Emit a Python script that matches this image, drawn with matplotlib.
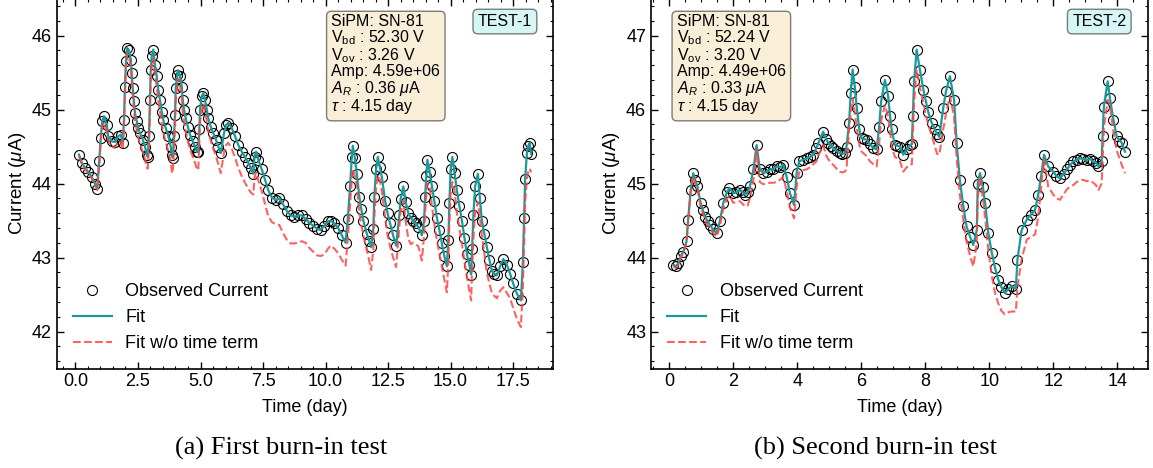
import matplotlib
matplotlib.use("Agg")
import matplotlib.pyplot as plt
from matplotlib.ticker import AutoMinorLocator, MultipleLocator

plt.rcParams['font.family'] = ['Liberation Sans', 'DejaVu Sans']
plt.rcParams['mathtext.fontset'] = 'custom'
plt.rcParams['mathtext.rm'] = 'Liberation Sans'
plt.rcParams['mathtext.it'] = 'Liberation Sans:italic'
plt.rcParams['mathtext.bf'] = 'Liberation Sans:bold'

# ---------------- TEST-1 data ----------------
time1 = [0.14, 0.25, 0.38, 0.51, 0.65, 0.78, 0.87, 0.95, 1.01, 1.07, 1.14, 1.25, 1.31, 1.45, 1.58,
         1.71, 1.81, 1.89, 1.94, 1.98, 2.02, 2.07, 2.14, 2.21, 2.25, 2.29, 2.34, 2.38, 2.45, 2.51,
         2.58, 2.69, 2.78, 2.85, 2.89, 2.94, 2.98, 3.01, 3.05, 3.11, 3.18, 3.25, 3.31, 3.38, 3.45,
         3.51, 3.61, 3.71, 3.81, 3.85, 3.89, 3.94, 3.98, 4.01, 4.07, 4.11, 4.18, 4.25, 4.29, 4.34,
         4.41, 4.49, 4.58, 4.69, 4.78, 4.85, 4.91, 4.95, 4.98, 5.05, 5.11, 5.18, 5.25, 5.31, 5.41,
         5.51, 5.62, 5.71, 5.81, 5.94, 6.02, 6.11, 6.25, 6.38, 6.51, 6.65, 6.78, 6.91, 7.01, 7.11,
         7.16, 7.22, 7.31, 7.45, 7.58, 7.71, 7.85, 8.00, 8.15, 8.30, 8.45, 8.60, 8.75, 8.90, 9.05,
         9.20, 9.35, 9.50, 9.65, 9.80, 9.95, 10.10, 10.20, 10.35, 10.50, 10.65, 10.80, 10.89, 10.98, 11.05,
         11.09, 11.17, 11.25, 11.35, 11.43, 11.51, 11.65, 11.75, 11.82, 11.91, 11.95, 12.02, 12.09, 12.17, 12.25,
         12.38, 12.48, 12.58, 12.70, 12.82, 12.95, 13.00, 13.11, 13.20, 13.31, 13.41, 13.51, 13.61, 13.71, 13.85,
         13.94, 13.98, 14.03, 14.07, 14.17, 14.25, 14.35, 14.45, 14.55, 14.65, 14.75, 14.85, 14.91, 14.95, 15.00,
         15.07, 15.16, 15.25, 15.35, 15.45, 15.55, 15.65, 15.75, 15.82, 15.86, 15.91, 15.98, 16.09, 16.17, 16.25,
         16.35, 16.45, 16.55, 16.65, 16.75, 16.85, 16.98, 17.11, 17.25, 17.38, 17.50, 17.65, 17.81, 17.89, 17.94,
         17.98, 18.05, 18.11, 18.16, 18.22]
current1 = [44.39, 44.28, 44.21, 44.16, 44.09, 44.00, 43.93, 44.30, 44.61, 44.84, 44.91, 44.79, 44.64, 44.57, 44.56,
            44.64, 44.66, 44.55, 44.86, 45.31, 45.65, 45.83, 45.80, 45.67, 45.49, 45.29, 45.11, 44.95, 44.84, 44.75,
            44.68, 44.59, 44.50, 44.39, 44.36, 44.64, 45.13, 45.54, 45.72, 45.81, 45.60, 45.45, 45.27, 45.13, 44.97,
            44.86, 44.75, 44.64, 44.50, 44.38, 44.35, 44.64, 44.93, 45.29, 45.47, 45.53, 45.45, 45.31, 45.13, 45.00,
            44.88, 44.77, 44.66, 44.57, 44.50, 44.43, 44.42, 44.73, 45.00, 45.18, 45.22, 45.13, 45.00, 44.88, 44.77,
            44.68, 44.59, 44.50, 44.41, 44.68, 44.79, 44.82, 44.75, 44.64, 44.52, 44.43, 44.36, 44.28, 44.21, 44.13,
            44.36, 44.43, 44.32, 44.19, 44.05, 43.91, 43.81, 43.78, 43.80, 43.72, 43.63, 43.57, 43.55, 43.57, 43.57,
            43.52, 43.47, 43.43, 43.39, 43.37, 43.43, 43.49, 43.50, 43.46, 43.40, 43.30, 43.20, 43.52, 43.97, 44.36,
            44.51, 44.35, 44.13, 43.82, 43.65, 43.50, 43.32, 43.22, 43.14, 43.39, 43.82, 44.19, 44.36, 44.22, 44.09,
            43.77, 43.60, 43.46, 43.30, 43.16, 43.57, 43.79, 43.96, 43.75, 43.60, 43.53, 43.50, 43.46, 43.41, 43.30,
            43.50, 43.82, 44.10, 44.32, 44.15, 43.97, 43.76, 43.54, 43.37, 43.19, 43.02, 42.88, 43.23, 43.73, 44.19,
            44.36, 44.14, 43.91, 43.70, 43.50, 43.27, 43.05, 42.90, 42.77, 43.12, 43.57, 43.96, 44.13, 43.80, 43.50,
            43.32, 43.14, 42.97, 42.82, 42.78, 42.76, 42.88, 42.98, 42.90, 42.78, 42.65, 42.51, 42.42, 42.94, 43.54,
            44.06, 44.41, 44.51, 44.55, 44.40]
notime1 = [44.37, 44.27, 44.19, 44.14, 44.07, 43.98, 43.91, 44.26, 44.56, 44.77, 44.82, 44.70, 44.58, 44.50, 44.48,
           44.56, 44.57, 44.46, 44.78, 45.22, 45.58, 45.75, 45.72, 45.57, 45.39, 45.18, 45.00, 44.84, 44.72, 44.62,
           44.54, 44.43, 44.33, 44.22, 44.20, 44.50, 44.98, 45.40, 45.60, 45.69, 45.47, 45.31, 45.12, 44.97, 44.81,
           44.69, 44.56, 44.44, 44.29, 44.17, 44.14, 44.45, 44.75, 45.12, 45.33, 45.42, 45.32, 45.17, 44.98, 44.84,
           44.71, 44.58, 44.46, 44.36, 44.28, 44.20, 44.18, 44.52, 44.82, 44.99, 45.08, 44.98, 44.84, 44.71, 44.58,
           44.47, 44.37, 44.26, 44.14, 44.42, 44.52, 44.55, 44.47, 44.35, 44.21, 44.10, 44.01, 43.93, 43.88, 43.85,
           44.08, 44.15, 44.04, 43.90, 43.72, 43.56, 43.48, 43.45, 43.44, 43.33, 43.24, 43.19, 43.19, 43.20, 43.22,
           43.20, 43.13, 43.08, 43.03, 43.02, 43.04, 43.12, 43.16, 43.12, 43.06, 42.97, 42.89, 43.25, 43.70, 44.07,
           44.20, 44.10, 43.98, 43.60, 43.45, 43.30, 43.10, 42.95, 42.83, 43.10, 43.55, 43.95, 44.11, 44.05, 43.90,
           43.55, 43.30, 43.15, 43.00, 42.87, 43.40, 43.62, 43.77, 43.50, 43.25, 43.18, 43.20, 43.18, 43.15, 42.96,
           43.30, 43.60, 43.85, 44.00, 43.95, 43.70, 43.45, 43.24, 43.05, 42.88, 42.70, 42.53, 42.95, 43.45, 43.85,
           44.02, 43.90, 43.60, 43.40, 43.19, 42.95, 42.74, 42.55, 42.42, 42.85, 43.25, 43.60, 43.75, 43.55, 43.30,
           43.05, 42.79, 42.65, 42.52, 42.48, 42.45, 42.55, 42.60, 42.52, 42.45, 42.32, 42.17, 42.06, 42.60, 43.20,
           43.75, 44.06, 44.18, 44.20, 44.15]

# ---------------- TEST-2 data ----------------
time2 = [0.13, 0.20, 0.28, 0.36, 0.44, 0.54, 0.59, 0.67, 0.75, 0.81, 0.88, 0.98, 1.05, 1.12, 1.20,
         1.27, 1.37, 1.48, 1.58, 1.69, 1.80, 1.88, 2.00, 2.10, 2.21, 2.30, 2.37, 2.45, 2.52, 2.63,
         2.73, 2.83, 2.94, 3.05, 3.15, 3.25, 3.36, 3.46, 3.56, 3.67, 3.77, 3.90, 3.98, 4.06, 4.17,
         4.29, 4.40, 4.50, 4.60, 4.66, 4.81, 4.90, 4.97, 5.05, 5.13, 5.23, 5.33, 5.41, 5.49, 5.54,
         5.62, 5.67, 5.73, 5.80, 5.86, 5.94, 6.01, 6.09, 6.17, 6.27, 6.38, 6.48, 6.56, 6.62, 6.74,
         6.84, 6.90, 6.95, 7.05, 7.13, 7.21, 7.31, 7.42, 7.52, 7.58, 7.61, 7.65, 7.73, 7.83, 7.94,
         8.02, 8.09, 8.20, 8.30, 8.37, 8.44, 8.56, 8.65, 8.77, 8.90, 8.98, 9.08, 9.19, 9.29, 9.40,
         9.50, 9.61, 9.64, 9.71, 9.80, 9.87, 9.97, 10.08, 10.18, 10.28, 10.38, 10.49, 10.60, 10.70, 10.83,
         10.88, 11.01, 11.17, 11.30, 11.43, 11.53, 11.62, 11.71, 11.84, 12.00, 12.10, 12.21, 12.32, 12.42, 12.53,
         12.63, 12.73, 12.83, 12.94, 13.04, 13.15, 13.25, 13.33, 13.41, 13.51, 13.54, 13.58, 13.70, 13.77, 13.88,
         13.98, 14.06, 14.14, 14.24]
current2 = [43.90, 43.88, 43.92, 44.02, 44.08, 44.22, 44.51, 44.91, 45.14, 45.05, 44.96, 44.74, 44.64, 44.55, 44.49,
            44.44, 44.38, 44.33, 44.49, 44.74, 44.88, 44.94, 44.87, 44.88, 44.91, 44.88, 44.85, 44.88, 44.96, 45.19,
            45.52, 45.19, 45.14, 45.16, 45.19, 45.20, 45.23, 45.22, 45.25, 45.09, 44.87, 44.71, 45.14, 45.30, 45.32,
            45.34, 45.36, 45.39, 45.48, 45.55, 45.70, 45.60, 45.55, 45.51, 45.48, 45.44, 45.41, 45.40, 45.41, 45.50,
            45.82, 46.22, 46.54, 46.30, 46.02, 45.73, 45.61, 45.60, 45.59, 45.53, 45.48, 45.46, 45.77, 46.11, 46.40,
            46.18, 45.91, 45.73, 45.52, 45.51, 45.50, 45.39, 45.46, 45.52, 45.53, 45.91, 46.38, 46.81, 46.54, 46.27,
            46.11, 45.97, 45.82, 45.73, 45.67, 45.63, 46.02, 46.25, 46.45, 46.13, 45.55, 45.05, 44.69, 44.42, 44.28,
            44.17, 44.37, 45.00, 45.14, 44.95, 44.74, 44.33, 44.06, 43.86, 43.70, 43.60, 43.52, 43.58, 43.61, 43.58,
            43.97, 44.37, 44.51, 44.58, 44.64, 44.85, 45.10, 45.39, 45.23, 45.16, 45.10, 45.07, 45.13, 45.19, 45.25,
            45.30, 45.32, 45.34, 45.33, 45.32, 45.33, 45.30, 45.28, 45.23, 45.30, 45.64, 46.04, 46.38, 46.15, 45.86,
            45.64, 45.58, 45.55, 45.43]
notime2 = [43.88, 43.86, 43.90, 44.00, 44.06, 44.20, 44.48, 44.88, 45.10, 45.01, 44.92, 44.70, 44.60, 44.50, 44.44,
           44.39, 44.33, 44.28, 44.42, 44.66, 44.79, 44.84, 44.74, 44.75, 44.76, 44.72, 44.69, 44.70, 44.80, 45.05,
           45.46, 45.02, 44.99, 45.00, 45.01, 45.01, 45.02, 45.05, 45.09, 44.90, 44.68, 44.53, 44.95, 45.15, 45.18,
           45.19, 45.22, 45.26, 45.30, 45.38, 45.52, 45.38, 45.33, 45.28, 45.25, 45.20, 45.16, 45.15, 45.16, 45.20,
           45.75, 45.95, 46.15, 45.95, 45.75, 45.52, 45.43, 45.40, 45.37, 45.30, 45.26, 45.23, 45.55, 45.85, 46.06,
           45.90, 45.70, 45.50, 45.36, 45.34, 45.30, 45.16, 45.22, 45.25, 45.26, 45.65, 46.10, 46.54, 46.30, 46.09,
           45.92, 45.80, 45.65, 45.50, 45.40, 45.39, 45.73, 45.95, 46.18, 45.90, 45.35, 44.85, 44.50, 44.22, 44.02,
           43.88, 44.20, 44.80, 45.09, 44.80, 44.55, 44.10, 43.75, 43.52, 43.38, 43.28, 43.23, 43.26, 43.27, 43.27,
           43.60, 43.98, 44.24, 44.28, 44.31, 44.55, 44.95, 45.33, 44.96, 44.85, 44.80, 44.78, 44.85, 44.92, 44.96,
           44.98, 45.02, 45.04, 45.05, 45.03, 45.04, 45.01, 44.98, 44.91, 45.00, 45.30, 45.75, 46.13, 46.05, 45.70,
           45.45, 45.35, 45.25, 45.14]

panels = [
    dict(t=time1, obs=current1, red=notime1, ylim=(41.5, 46.5), xlim=(-0.75, 19.11), major=2.5, fmt='%.1f',
         info="SiPM: SN-81\nV$_{\\rm bd}$ : 52.30 V\nV$_{\\rm ov}$ : 3.26 V\nAmp: 4.59e+06\n$A_R$ : 0.36 $\\mu$A\n$\\tau$ : 4.15 day",
         info_x=0.553, tag="TEST-1", caption="(a) First burn-in test", cap_x=281),
    dict(t=time2, obs=current2, red=notime2, ylim=(42.5, 47.5), xlim=(-0.57, 14.95), major=2, fmt='%d',
         info="SiPM: SN-81\nV$_{\\rm bd}$ : 52.24 V\nV$_{\\rm ov}$ : 3.20 V\nAmp: 4.49e+06\n$A_R$ : 0.33 $\\mu$A\n$\\tau$ : 4.15 day",
         info_x=0.052, tag="TEST-2", caption="(b) Second burn-in test", cap_x=875),
]

W, H = 1153, 468
fig = plt.figure(figsize=(W / 100, H / 100), dpi=100)
lefts = [56.7, 651.0]
for p, lpx in zip(panels, lefts):
    ax = fig.add_axes([lpx / W, (H - 368.5) / H, 496.7 / W, 370 / H])
    ax.plot(p['t'], p['obs'], 'o', mfc='none', mec='black', ms=7.2, mew=0.8, label='Observed Current')
    ax.plot(p['t'], p['obs'], '-', color='#1a9a9a', lw=1.6, label='Fit')
    ax.plot(p['t'], p['red'], '--', color='#ff4545', alpha=0.85, lw=1.5, label='Fit w/o time term')
    ax.set_xlim(*p['xlim'])
    ax.set_ylim(*p['ylim'])
    ax.xaxis.set_major_locator(MultipleLocator(p['major']))
    ax.xaxis.set_major_formatter(plt.FormatStrFormatter(p['fmt']))
    ax.yaxis.set_major_locator(MultipleLocator(1))
    ax.xaxis.set_minor_locator(AutoMinorLocator())
    ax.yaxis.set_minor_locator(AutoMinorLocator(5))
    ax.tick_params(which='both', direction='in', top=True, right=True, labelsize=13)
    ax.tick_params(which='major', length=5, width=1)
    ax.tick_params(which='minor', length=2.5, width=0.8)
    for s in ax.spines.values():
        s.set_linewidth(1.2)
    ax.set_xlabel('Time (day)', fontsize=13, labelpad=6)
    ax.set_ylabel('Current ($\\mu$A)', fontsize=13.5, labelpad=3)
    ax.text(p['info_x'], 0.958, p['info'], transform=ax.transAxes, ha='left', va='top', fontsize=11.5,
            linespacing=0.95,
            bbox=dict(boxstyle='round,pad=0.3', facecolor='wheat', alpha=0.5, edgecolor='black'))
    ax.text(0.957, 0.958, p['tag'], transform=ax.transAxes, ha='right', va='top', fontsize=11.5,
            bbox=dict(boxstyle='round,pad=0.3', facecolor='paleturquoise', alpha=0.5, edgecolor='black'))
    ax.legend(loc='lower left', bbox_to_anchor=(0.0, 0.0), frameon=False, fontsize=13,
              handlelength=2.15, labelspacing=0.5, handletextpad=0.75)
    fig.text(p['cap_x'] / W, (H - 455) / H, p['caption'], ha='center', va='baseline',
             fontsize=19, family='Liberation Serif')

fig.savefig('out.png', dpi=100)
